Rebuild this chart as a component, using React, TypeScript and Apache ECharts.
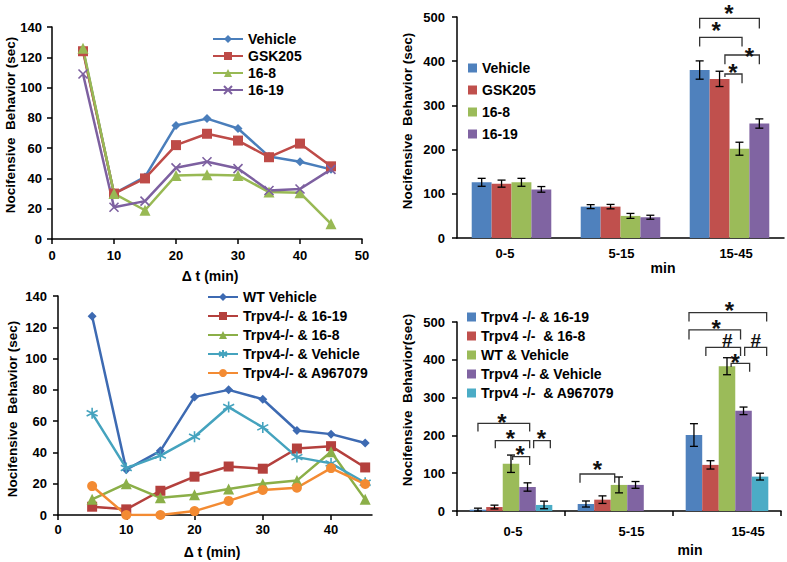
import React, { useEffect, useRef } from 'react';
import * as echarts from 'echarts';

const FONT = 'Arial, "Liberation Sans", Helvetica, sans-serif';

// ---------- Panel A (top-left): time course ----------
const timeA = [5, 10, 15, 20, 25, 30, 35, 40, 45];
const vehicleA = [125, 30, 41, 75, 79.5, 73, 54.5, 51, 46];
const gsk205A = [124, 30, 40, 62, 69.5, 65, 54, 63, 48];
const c168A = [126, 30, 19, 42, 42.5, 42, 31, 30.5, 10];
const c1619A = [109, 21, 25, 47, 51, 46.5, 32, 33, 46];

// ---------- Panel B (top-right): binned bars ----------
const binsB = ['0-5', '5-15', '15-45'];
const namesB = ['Vehicle', 'GSK205', '16-8', '16-19'];
const vehicleB = [126, 71, 380];
const gsk205B = [123, 71, 360];
const c168B = [126, 50, 202];
const c1619B = [110, 47, 259];
const vehicleBErr = [9, 4.5, 20.7];
const gsk205BErr = [8, 5, 17.3];
const c168BErr = [9, 5.6, 14.7];
const c1619BErr = [6.4, 4.5, 10.5];
const bracketsB = [
  { cat: 2, from: 0, to: 3, top: 497, left: 474, right: 474, label: '*', lx: 1.47, ly: 520 },
  { cat: 2, from: 0, to: 2.13, top: 454, left: 433, right: 433, label: '*', lx: 0.83, ly: 482 },
  { cat: 2, from: 1.27, to: 3, top: 414, left: 393, right: 393, label: '*', lx: 2.5, ly: 424 },
  { cat: 2, from: 1.27, to: 2.13, top: 371, left: 364, right: 350, label: '*', lx: 1.67, ly: 387 },
];

// ---------- Panel C (bottom-left): time course, knockouts ----------
const timeC = [5, 10, 15, 20, 25, 30, 35, 40, 45];
const wtVehicleC = [127, 29, 41, 75.5, 80, 74, 54, 51.7, 46];
const ko1619C = [5.3, 3.6, 15.5, 24.5, 31, 29.6, 42.5, 44, 30.4];
const ko168C = [10, 20, 11, 13, 16.6, 20, 22, 40.4, 10];
const koVehicleC = [65, 30, 38, 50, 69, 56, 37, 33, 20.6];
const koA967079C = [18.5, 0, 0, 2.5, 9, 16, 17.4, 30, 19.8];
const xTicksC = [0, 10, 20, 30, 40];

// ---------- Panel D (bottom-right): binned bars, knockouts ----------
const binsD = ['0-5', '5-15', '15-45'];
const namesD = ['Trpv4 -/- & 16-19', 'Trpv4 -/-  & 16-8', 'WT & Vehicle', 'Trpv4 -/- & Vehicle', 'Trpv4 -/-  & A967079'];
const ko1619D = [3.5, 18.5, 201];
const ko168D = [10.5, 30, 122];
const wtVehicleD = [125, 69, 383];
const koVehicleD = [63.5, 69, 265];
const koA967079D = [16, null, 91];
const ko1619DErr = [4, 8, 30];
const ko168DErr = [5, 10, 11];
const wtVehicleDErr = [23, 21, 22.5];
const koVehicleDErr = [11, 9, 10];
const koA967079DErr = [10, null, 9];
const bracketsD = [
  { cat: 0, from: 0, to: 3.13, top: 232, left: 210, right: 210, label: '*', lx: 1.45, ly: 249.5 },
  { cat: 0, from: 1.05, to: 3.13, top: 186, left: 166, right: 166, label: '*', lx: 1.96, ly: 205.5 },
  { cat: 0, from: 2.1, to: 3.13, top: 143.7, left: 135, right: 121.7, label: '*', lx: 2.56, ly: 163 },
  { cat: 0, from: 3.37, to: 4.38, top: 186, left: 166, right: 166, label: '*', lx: 3.84, ly: 205.5 },
  { cat: 1, from: -0.36, to: 1.74, top: 97.9, left: 75, right: 75, label: '*', lx: 0.69, ly: 124 },
  { cat: 2, from: -0.3, to: 4.4, top: 524.6, left: 501, right: 501, label: '*', lx: 2.15, ly: 545 },
  { cat: 2, from: -0.3, to: 2.82, top: 479, left: 454, right: 454, label: '*', lx: 1.35, ly: 496.5 },
  { cat: 2, from: 0.72, to: 2.82, top: 433, left: 410, right: 410, label: '#', lx: 2.02, ly: 452 },
  { cat: 2, from: 3.07, to: 4.4, top: 433, left: 410, right: 410, label: '#', lx: 3.74, ly: 452 },
  { cat: 2, from: 2.25, to: 3.37, top: 390.7, left: 381, right: 368.5, label: '*', lx: 2.5, ly: 408 },
];

const GAP_B = 0.27;
const GAP_D = 0.235;

const X_SYMBOL = 'path://M0,0L10,10M10,0L0,10';
const STAR_SYMBOL = 'path://M5,0L5,10M0,2.5L10,7.5M0,7.5L10,2.5';

function App() {
  const ref = useRef<HTMLDivElement>(null);

  useEffect(() => {
    if (!ref.current) return;
    const chart = echarts.init(ref.current, undefined, { renderer: 'svg' });

    const axisLine = { show: true, lineStyle: { color: '#000', width: 1.5 } };
    const axisTick = { show: true, inside: false, length: 5, lineStyle: { color: '#000', width: 1.5 } };
    const labelStyle = { color: '#000', fontWeight: 'bold' as const, fontSize: 13, fontFamily: FONT };
    const richLbl = (padding: number[]) => ({ ...labelStyle, padding });

    const barX = (n: number, gap: number, api: any, cat: number, idx: number) => {
      const band = api.size([1, 0])[0];
      const bw = (band * (1 - gap)) / n;
      const c = api.coord([cat, 0])[0];
      return c - (n * bw) / 2 + bw * (idx + 0.5);
    };

    const errRender = (n: number, gap: number) => (params: any, api: any) => {
      const cat = api.value(0);
      const s = api.value(1);
      const v = api.value(2);
      const e = api.value(3);
      const x = barX(n, gap, api, cat, s);
      const yHi = api.coord([cat, v + e])[1];
      const yLo = api.coord([cat, Math.max(0, v - e)])[1];
      const cap = 4;
      const st = { stroke: '#000', lineWidth: 1.3 };
      return {
        type: 'group',
        children: [
          { type: 'line', shape: { x1: x, y1: yHi, x2: x, y2: yLo }, style: st },
          { type: 'line', shape: { x1: x - cap, y1: yHi, x2: x + cap, y2: yHi }, style: st },
          { type: 'line', shape: { x1: x - cap, y1: yLo, x2: x + cap, y2: yLo }, style: st },
        ],
      };
    };

    const bracketRender = (list: any[], n: number, gap: number) => (params: any, api: any) => {
      const b = list[params.dataIndex];
      const xOf = (i: number) => barX(n, gap, api, b.cat, i);
      const y = (v: number) => api.coord([b.cat, v])[1];
      const x1 = xOf(b.from);
      const x2 = xOf(b.to);
      const isStar = b.label === '*';
      return {
        type: 'group',
        children: [
          {
            type: 'polyline',
            shape: { points: [[x1, y(b.left)], [x1, y(b.top)], [x2, y(b.top)], [x2, y(b.right)]] },
            style: { stroke: '#333', lineWidth: 1.3, fill: null },
          },
          {
            type: 'text',
            x: xOf(b.lx),
            y: y(b.ly) + (isStar ? 5.5 : 0),
            style: {
              text: b.label,
              fill: '#111',
              fontSize: isStar ? 24 : 19,
              lineHeight: isStar ? 10 : 12,
              fontWeight: 'bold',
              fontFamily: FONT,
              align: 'center',
              verticalAlign: 'middle',
              textAlign: 'center',
              textVerticalAlign: 'middle',
            },
          },
        ],
      };
    };

    const errData = (vals: (number | null)[][], errs: (number | null)[][]) => {
      const out: number[][] = [];
      vals.forEach((arr, s) => {
        arr.forEach((v, c) => {
          const e = errs[s][c];
          if (v != null && e != null) out.push([c, s, v, e]);
        });
      });
      return out;
    };

    const lineSeries = (
      name: string, xs: number[], ys: number[], color: string, symbol: string, size: number,
      gi: number, stroke = false
    ) => ({
      type: 'line',
      name,
      xAxisIndex: gi,
      yAxisIndex: gi,
      data: xs.map((x, i) => [x, ys[i]]),
      symbol,
      symbolSize: size,
      showSymbol: true,
      lineStyle: { color, width: 2.5 },
      itemStyle: stroke
        ? { color, borderColor: color, borderWidth: 1.6 }
        : { color, borderColor: color, borderWidth: 0 },
      z: 3,
    });

    const barsB = [vehicleB, gsk205B, c168B, c1619B];
    const errsB = [vehicleBErr, gsk205BErr, c168BErr, c1619BErr];
    const colorsB = ['#4F81BD', '#C0504D', '#9BBB59', '#8064A2'];
    const barsD = [ko1619D, ko168D, wtVehicleD, koVehicleD, koA967079D];
    const errsD = [ko1619DErr, ko168DErr, wtVehicleDErr, koVehicleDErr, koA967079DErr];
    const colorsD = ['#4F81BD', '#C0504D', '#9BBB59', '#8064A2', '#4BACC6'];

    const legendText = { color: '#000', fontWeight: 'bold' as const, fontSize: 14, fontFamily: FONT };
    const keys = ['a', 'b', 'c'];

    const option: any = {
      animation: false,
      backgroundColor: '#fff',
      grid: [
        { left: 52, top: 27, width: 310, height: 212 },
        { left: 457, top: 17, width: 327, height: 221 },
        { left: 58, top: 296, width: 314, height: 219 },
        { left: 457, top: 322, width: 324, height: 189 },
      ],
      xAxis: [
        {
          gridIndex: 0, type: 'value', min: 0, max: 50, interval: 10,
          axisLine, axisTick, splitLine: { show: false },
          axisLabel: { ...labelStyle, margin: 10 },
        },
        {
          gridIndex: 1, type: 'category', data: binsB,
          axisLine, axisTick: { show: false }, splitLine: { show: false },
          axisLabel: {
            ...labelStyle, margin: 9,
            formatter: (v: string, i: number) => `{${keys[i]}|${v}}`,
            rich: { a: richLbl([0, 13, 0, 0]), b: richLbl([0, 0, 0, 2]), c: richLbl([0, 0, 0, 13]) },
          },
        },
        {
          gridIndex: 2, type: 'value', min: 0, max: 46, interval: 10,
          axisLine,
          axisTick: { ...axisTick, customValues: xTicksC },
          splitLine: { show: false },
          axisLabel: { ...labelStyle, margin: 8, customValues: xTicksC },
        },
        {
          gridIndex: 3, type: 'category', data: binsD,
          axisLine, axisTick: { ...axisTick, alignWithLabel: false, interval: 0 }, splitLine: { show: false },
          axisLabel: {
            ...labelStyle, margin: 14,
            formatter: (v: string, i: number) => `{${keys[i]}|${v}}`,
            rich: { a: richLbl([0, 0, 0, 4]), b: richLbl([0, 0, 0, 25]), c: richLbl([0, 0, 0, 42]) },
          },
        },
      ],
      yAxis: [
        { gridIndex: 0, type: 'value', min: 0, max: 140, interval: 20, axisLine, axisTick, splitLine: { show: false }, axisLabel: { ...labelStyle, margin: 10 } },
        { gridIndex: 1, type: 'value', min: 0, max: 500, interval: 100, axisLine, axisTick, splitLine: { show: false }, axisLabel: { ...labelStyle, margin: 12 } },
        { gridIndex: 2, type: 'value', min: 0, max: 140, interval: 20, axisLine, axisTick, splitLine: { show: false }, axisLabel: { ...labelStyle, margin: 11 } },
        { gridIndex: 3, type: 'value', min: 0, max: 500, interval: 100, axisLine, axisTick, splitLine: { show: false }, axisLabel: { ...labelStyle, margin: 12 } },
      ],
      legend: [
        {
          data: ['Vehicle', 'GSK205', '16-8', '16-19'],
          orient: 'vertical', left: 207, top: 27, itemWidth: 30, itemHeight: 10, itemGap: 3,
          selectedMode: false, textStyle: legendText,
        },
        {
          data: namesB.map((n) => n + ' '),
          formatter: (n: string) => n.trim(),
          icon: 'rect', orient: 'vertical', left: 463, top: 56, itemWidth: 9, itemHeight: 9, itemGap: 8,
          selectedMode: false, textStyle: legendText,
        },
        {
          data: ['WT Vehicle', 'Trpv4-/- & 16-19', 'Trpv4-/- & 16-8', 'Trpv4-/- & Vehicle', 'Trpv4-/- & A967079'],
          orient: 'vertical', left: 202, top: 285, itemWidth: 30, itemHeight: 10, itemGap: 5,
          selectedMode: false, textStyle: legendText,
        },
        {
          data: namesD,
          icon: 'rect', orient: 'vertical', left: 462, top: 305, itemWidth: 9, itemHeight: 9, itemGap: 5,
          selectedMode: false, textStyle: legendText,
        },
      ],
      series: [
        lineSeries('Vehicle', timeA, vehicleA, '#4A7EBB', 'diamond', 9, 0),
        lineSeries('GSK205', timeA, gsk205A, '#BE4B48', 'rect', 10, 0),
        lineSeries('16-8', timeA, c168A, '#98B954', 'triangle', 11, 0),
        lineSeries('16-19', timeA, c1619A, '#7D60A0', X_SYMBOL, 9, 0, true),

        ...barsB.map((d, i) => ({
          type: 'bar', name: namesB[i] + ' ', xAxisIndex: 1, yAxisIndex: 1, data: d,
          barGap: '0%', barCategoryGap: GAP_B * 100 + '%',
          itemStyle: { color: colorsB[i] },
        })),
        {
          type: 'custom', name: 'errB', xAxisIndex: 1, yAxisIndex: 1,
          data: errData(barsB, errsB), encode: { x: 0, y: 2 },
          renderItem: errRender(4, GAP_B), z: 5, silent: true,
        },
        {
          type: 'custom', name: 'sigB', xAxisIndex: 1, yAxisIndex: 1,
          data: bracketsB.map((b) => [b.cat, b.top]), encode: { x: 0, y: 1 },
          renderItem: bracketRender(bracketsB, 4, GAP_B), z: 6, silent: true, clip: false,
        },

        lineSeries('WT Vehicle', timeC, wtVehicleC, '#3D6AB2', 'diamond', 9, 2),
        lineSeries('Trpv4-/- & 16-19', timeC, ko1619C, '#B4403D', 'rect', 10, 2),
        lineSeries('Trpv4-/- & 16-8', timeC, ko168C, '#8BAF48', 'triangle', 11, 2),
        lineSeries('Trpv4-/- & Vehicle', timeC, koVehicleC, '#45A3BE', STAR_SYMBOL, 11, 2, true),
        lineSeries('Trpv4-/- & A967079', timeC, koA967079C, '#F38B33', 'circle', 10, 2),

        ...barsD.map((d, i) => ({
          type: 'bar', name: namesD[i], xAxisIndex: 3, yAxisIndex: 3, data: d,
          barGap: '0%', barCategoryGap: GAP_D * 100 + '%',
          itemStyle: { color: colorsD[i] },
        })),
        {
          type: 'custom', name: 'errD', xAxisIndex: 3, yAxisIndex: 3,
          data: errData(barsD as any, errsD as any), encode: { x: 0, y: 2 },
          renderItem: errRender(5, GAP_D), z: 5, silent: true,
        },
        {
          type: 'custom', name: 'sigD', xAxisIndex: 3, yAxisIndex: 3,
          data: bracketsD.map((b) => [b.cat, b.top]), encode: { x: 0, y: 1 },
          renderItem: bracketRender(bracketsD, 5, GAP_D), z: 6, silent: true, clip: false,
        },
      ],
      graphic: [
        { type: 'text', x: 210, y: 276, style: { text: 'Δ t (min)', fill: '#000', font: `bold 14px ${FONT}`, align: 'center', verticalAlign: 'middle' } },
        { type: 'text', x: 212, y: 552, style: { text: 'Δ t (min)', fill: '#000', font: `bold 14px ${FONT}`, align: 'center', verticalAlign: 'middle' } },
        { type: 'text', x: 663, y: 268, style: { text: 'min', fill: '#000', font: `bold 14px ${FONT}`, align: 'center', verticalAlign: 'middle' } },
        { type: 'text', x: 690, y: 550, style: { text: 'min', fill: '#000', font: `bold 14px ${FONT}`, align: 'center', verticalAlign: 'middle' } },
        { type: 'text', x: 10, y: 125, rotation: Math.PI / 2, style: { text: 'Nocifensive  Behavior (sec)', fill: '#000', font: `bold 13.5px ${FONT}`, align: 'center', verticalAlign: 'middle' } },
        { type: 'text', x: 407, y: 121, rotation: Math.PI / 2, style: { text: 'Nocifensive  Behavior (sec)', fill: '#000', font: `bold 13.5px ${FONT}`, align: 'center', verticalAlign: 'middle' } },
        { type: 'text', x: 12, y: 409, rotation: Math.PI / 2, style: { text: 'Nocifensive  Behavior (sec)', fill: '#000', font: `bold 13.5px ${FONT}`, align: 'center', verticalAlign: 'middle' } },
        { type: 'text', x: 407, y: 400, rotation: Math.PI / 2, style: { text: 'Nocifensive  Behavior(sec)', fill: '#000', font: `bold 13.5px ${FONT}`, align: 'center', verticalAlign: 'middle' } },
      ],
    };

    chart.setOption(option);
    return () => chart.dispose();
  }, []);

  return (
    <div
      ref={ref}
      style={{ position: 'fixed', left: 0, top: 0, width: 787, height: 562, background: '#fff' }}
    />
  );
}

export default App;
